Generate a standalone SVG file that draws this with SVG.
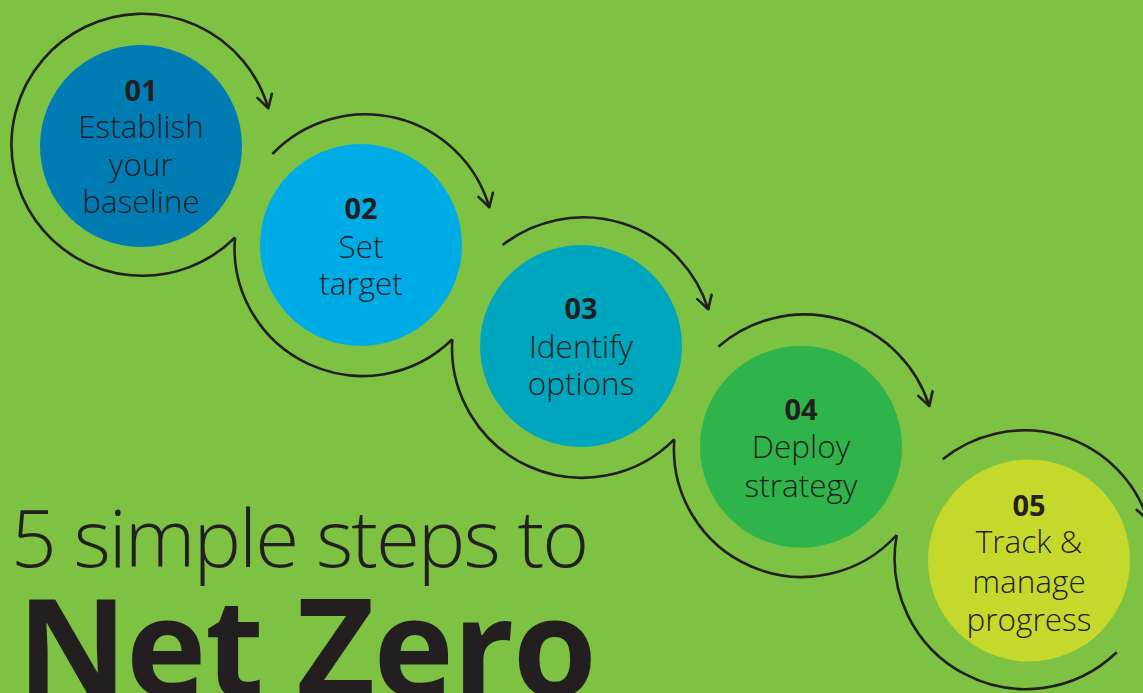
<svg xmlns="http://www.w3.org/2000/svg" width="1143" height="693" viewBox="0 0 1143 693">
  <defs>
    <marker id="arrowhead" markerUnits="userSpaceOnUse" markerWidth="30" markerHeight="30" viewBox="-20 -15 30 30" refX="0" refY="0" orient="auto" overflow="visible">
      <path d="M -13 -7.5 L 0 0 L -13 7.5" fill="none" stroke="#231f20" stroke-width="2.6" stroke-linecap="round" stroke-linejoin="round"/>
    </marker>
    <style>
      .bg { fill: #7dc243; }
      .step { stroke: none; }
      .num { font-family: "Open Sans", "Liberation Sans", sans-serif; font-weight: 700; font-size: 29px; fill: #231f20; text-anchor: middle; }
      .lbl { font-family: "Open Sans", "Liberation Sans", sans-serif; font-weight: 300; font-size: 31.5px; fill: #231f20; text-anchor: middle; }
      .ring { fill: none; stroke: #231f20; stroke-width: 2.6; stroke-linecap: butt; stroke-linejoin: miter; }
      .title-light { font-family: "Open Sans", "Liberation Sans", sans-serif; font-weight: 300; font-size: 80px; letter-spacing: -2px; fill: #231f20; }
      .title-bold { font-family: "Open Sans", "Liberation Sans", sans-serif; font-weight: 700; font-size: 136px; letter-spacing: -1.5px; fill: #231f20; }
    </style>
  </defs>

  <rect class="bg" x="0" y="0" width="1143" height="693"/>

  <!-- connectors: ring arcs looping around each step -->
  <g id="connectors">
    <!-- ring 1: full loop ending in an arrow toward step 2 -->
    <path class="ring" d="M 235 237.5 A 131 131 0 1 1 268.3 108.3" marker-end="url(#arrowhead)"/>
    <!-- upper arcs with arrows -->
    <path class="ring" d="M 272.3 154 A 129 129 0 0 1 489.3 207.3" marker-end="url(#arrowhead)"/>
    <path class="ring" d="M 502.7 245 A 131 131 0 0 1 708.3 309.3" marker-end="url(#arrowhead)"/>
    <path class="ring" d="M 718.3 346.7 A 131 131 0 0 1 929.3 406" marker-end="url(#arrowhead)"/>
    <path class="ring" d="M 942.7 459.3 A 130 130 0 0 1 1148 520" marker-end="url(#arrowhead)"/>
    <!-- lower arcs joining neighbouring rings -->
    <path class="ring" d="M 235 237.5 A 128 128 0 0 0 452.3 339.3"/>
    <path class="ring" d="M 452.3 339.3 A 130 130 0 0 0 674.3 439.3"/>
    <path class="ring" d="M 674.3 439.3 A 128 128 0 0 0 896.7 535"/>
    <path class="ring" d="M 896.7 535 A 131 131 0 0 0 1116.7 652.3"/>
  </g>

  <g id="step-01">
    <circle class="step" cx="141" cy="146" r="101" fill="#007bb4"/>
    <text class="num" x="141" y="100.7">01</text>
    <text class="lbl" x="141" y="138.3">Establish</text>
    <text class="lbl" x="141" y="176">your</text>
    <text class="lbl" x="141" y="213.3">baseline</text>
  </g>

  <g id="step-02">
    <circle class="step" cx="361" cy="245" r="101" fill="#00ace6"/>
    <text class="num" x="361" y="219">02</text>
    <text class="lbl" x="361" y="257.7">Set</text>
    <text class="lbl" x="361" y="295">target</text>
  </g>

  <g id="step-03">
    <circle class="step" cx="581" cy="346" r="101" fill="#00a6bd"/>
    <text class="num" x="581" y="319">03</text>
    <text class="lbl" x="581" y="358.3">Identify</text>
    <text class="lbl" x="581" y="395">options</text>
  </g>

  <g id="step-04">
    <circle class="step" cx="801" cy="446.7" r="101" fill="#2fb34b"/>
    <text class="num" x="801" y="420">04</text>
    <text class="lbl" x="801" y="458.3">Deploy</text>
    <text class="lbl" x="801" y="496.7">strategy</text>
  </g>

  <g id="step-05">
    <circle class="step" cx="1029" cy="560.5" r="101" fill="#c5d92d"/>
    <text class="num" x="1029" y="515.7">05</text>
    <text class="lbl" x="1029" y="553.3">Track &amp;</text>
    <text class="lbl" x="1029" y="592.7">manage</text>
    <text class="lbl" x="1029" y="631">progress</text>
  </g>

  <g id="title">
    <text class="title-light" x="11" y="567">5 simple steps to</text>
    <text class="title-bold" x="17" y="697">Net Zero</text>
  </g>
</svg>
